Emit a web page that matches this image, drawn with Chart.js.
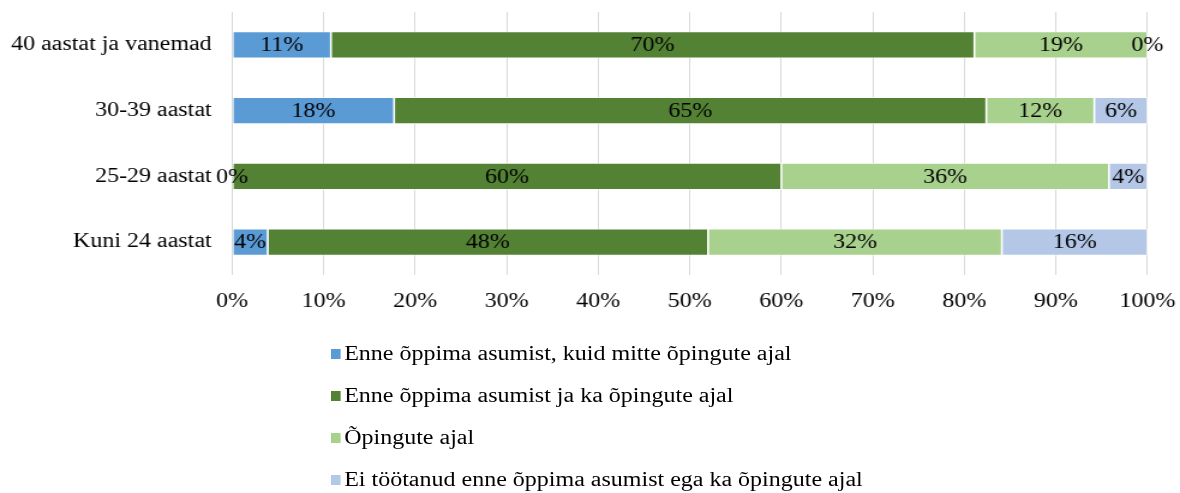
<!DOCTYPE html>
<html>
<head>
<meta charset="utf-8">
<script src="https://cdn.jsdelivr.net/npm/chart.js@4"></script>
<style>
  html, body { margin: 0; padding: 0; background: #fff; overflow: hidden; }
  #wrap { position: relative; width: 1180px; height: 493px; }
  #stretch { position: absolute; left: 0; top: 0; transform-origin: 0 0; }
  #legend { position: absolute; left: 331px; top: 338px; transform-origin: 0 0; font-family: "Liberation Serif", "Times New Roman", serif; font-size: 20px; color: #000; }
  #legend div { height: 42px; line-height: 30px; white-space: nowrap; }
  #legend span { display: inline-block; width: 8px; height: 10px; margin-right: 3px; vertical-align: 1px; }
</style>
</head>
<body>
<div id="wrap">
  <div id="stretch"><canvas id="myChart"></canvas></div>
  <div id="legend"></div>
</div>
<script>
// vanuserühmad ülevalt alla
const categories = ["40 aastat ja vanemad", "30-39 aastat", "25-29 aastat", "Kuni 24 aastat"];
// seeriate nimed
const seriesNames = [
  "Enne õppima asumist, kuid mitte õpingute ajal",
  "Enne õppima asumist ja ka õpingute ajal",
  "Õpingute ajal",
  "Ei töötanud enne õppima asumist ega ka õpingute ajal"
];
const seriesColors = ["#5B9BD5", "#548235", "#A9D18E", "#B4C7E7"];
// väärtused protsentides (loetud pildilt)
const enneKuidMitte = [10.8, 17.7, 0, 3.9];
const enneJaKa = [70.3, 64.7, 60.0, 48.1];
const opinguteAjal = [18.9, 11.8, 35.8, 32.1];
const eiTootanud = [0, 5.8, 4.2, 15.9];
const xTicks = [0, 10, 20, 30, 40, 50, 60, 70, 80, 90, 100];

const seriesValues = [enneKuidMitte, enneJaKa, opinguteAjal, eiTootanud];
const FONT = "'Liberation Serif', 'Times New Roman', serif";

// originaalis on tekst laiemaks venitatud, seega joonistame kitsamalt ja venitame
const SX = 1.2;
const W = 1180 / SX;
const H = 493;

let canvas = document.getElementById("myChart");
canvas.width = Math.round(W);
canvas.height = H;
document.getElementById("stretch").style.transform = "scaleX(" + (1180 / canvas.width) + ")";
document.getElementById("legend").style.transform = "scaleX(" + SX + ")";

const data = {
  labels: categories,
  datasets: seriesNames.map(function (name, i) {
    return {
      label: name,
      data: seriesValues[i],
      backgroundColor: seriesColors[i],
      borderColor: "#ffffff",
      borderWidth: 0.8,
      borderSkipped: false,
      barPercentage: 0.41,
      categoryPercentage: 1.0
    };
  })
};

// protsendid lõikude keskele
const segmentLabels = {
  id: "segmentLabels",
  afterDatasetsDraw(chart) {
    const ctx = chart.ctx;
    ctx.save();
    ctx.font = "20px " + FONT;
    ctx.fillStyle = "#000";
    ctx.textAlign = "center";
    ctx.textBaseline = "middle";
    chart.data.datasets.forEach(function (ds, di) {
      chart.getDatasetMeta(di).data.forEach(function (bar, i) {
        const mid = (bar.x + bar.base) / 2;
        ctx.fillText(Math.round(ds.data[i]) + "%", mid, bar.y + 1);
      });
    });
    ctx.restore();
  }
};

const config = {
  type: "bar",
  data: data,
  options: {
    indexAxis: "y",
    responsive: false,
    animation: false,
    layout: { padding: { top: 12, right: canvas.width - 1147 / SX, left: 0, bottom: 0 } },
    plugins: {
      legend: { display: false },
      tooltip: { enabled: false }
    },
    scales: {
      x: {
        stacked: true,
        min: 0,
        max: 100,
        afterFit: function (scale) {
          scale.height = 218;
          scale.paddingLeft = 0;
          scale.paddingRight = 0;
        },
        afterBuildTicks: function (scale) {
          scale.ticks = xTicks.map(function (v) { return { value: v }; });
        },
        grid: { color: "#D9D9D9", drawTicks: false },
        border: { display: false },
        ticks: {
          padding: 15,
          color: "#000",
          maxRotation: 0,
          font: { family: FONT, size: 20 },
          callback: function (v) { return v + "%"; }
        }
      },
      y: {
        stacked: true,
        afterFit: function (scale) {
          scale.width = 232 / SX;
          scale.paddingTop = 0;
          scale.paddingBottom = 0;
        },
        grid: { display: false, drawTicks: false },
        border: { display: false },
        ticks: {
          padding: 17,
          color: "#000",
          font: { family: FONT, size: 20 }
        }
      }
    }
  },
  plugins: [segmentLabels]
};

let context = canvas.getContext("2d");
let chart = new Chart(context, config);

// legend tulpadena alla
let legendBox = document.getElementById("legend");
seriesNames.forEach(function (name, i) {
  let row = document.createElement("div");
  let sw = document.createElement("span");
  sw.style.background = seriesColors[i];
  row.appendChild(sw);
  row.appendChild(document.createTextNode(name));
  legendBox.appendChild(row);
});
</script>
</body>
</html>
